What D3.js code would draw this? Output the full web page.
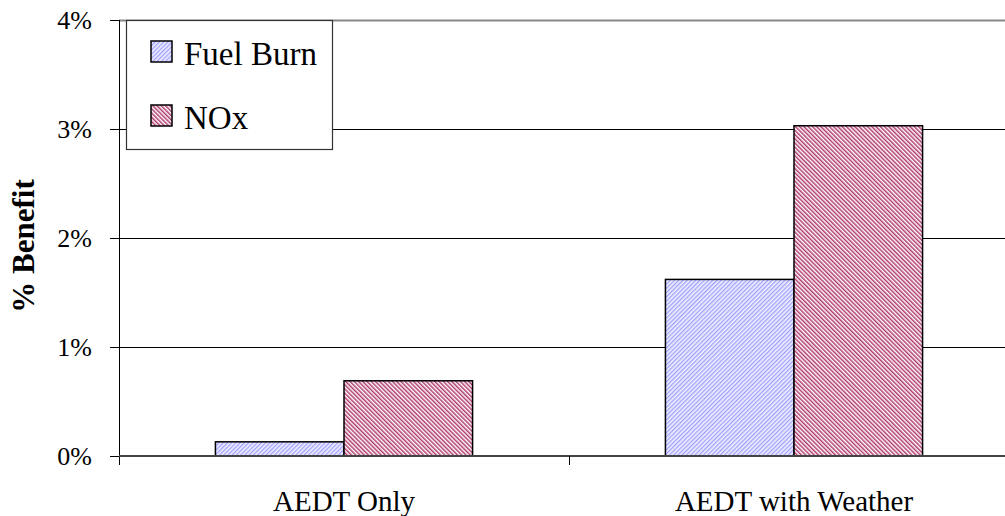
<!DOCTYPE html>
<html>
<head>
<meta charset="utf-8">
<script src="https://cdn.jsdelivr.net/npm/d3@7"></script>
<style>
  body { margin: 0; background: #fff; }
  svg { display: block; font-family: "Liberation Serif", "Times New Roman", serif; }
</style>
</head>
<body>
<svg width="1005" height="516"></svg>
<script>
'use strict';

const categories = ['AEDT Only', 'AEDT with Weather'];
const seriesNames = ['Fuel Burn', 'NOx'];
const fuelBurn = [0.13, 1.62];
const nox = [0.69, 3.03];
const yTicks = [0, 1, 2, 3, 4];

(function (d3) {
  const svg = d3.select('svg');

  const margin = { top: 20, left: 119 };
  const innerHeight = 436;
  const innerWidth = 900;   // plot runs past the right edge, as in the original

  const data = categories.map((c, i) => ({ category: c, values: [fuelBurn[i], nox[i]] }));

  const defs = svg.append('defs');

  const fuelPat = defs.append('pattern')
    .attr('id', 'pat-fuel')
    .attr('width', 3).attr('height', 3)
    .attr('patternUnits', 'userSpaceOnUse')
    .attr('patternTransform', 'rotate(45)');
  fuelPat.append('rect').attr('width', 3).attr('height', 3).attr('fill', '#f0f0ff');
  fuelPat.append('rect').attr('width', 1.3).attr('height', 3).attr('fill', '#a0a0ff');

  const noxPat = defs.append('pattern')
    .attr('id', 'pat-nox')
    .attr('width', 3).attr('height', 3)
    .attr('patternUnits', 'userSpaceOnUse')
    .attr('patternTransform', 'rotate(-45)');
  noxPat.append('rect').attr('width', 3).attr('height', 3).attr('fill', '#ffffff');
  noxPat.append('rect').attr('width', 1.5).attr('height', 3).attr('fill', '#b03a6e');

  const fills = ['url(#pat-fuel)', 'url(#pat-nox)'];

  const xScale = d3.scaleBand()
    .domain(categories)
    .range([0, innerWidth]);

  const xInner = d3.scaleBand()
    .domain(seriesNames)
    .range([0, xScale.bandwidth()])
    .paddingOuter(0.375 * 2)
    .paddingInner(0);

  const yScale = d3.scaleLinear()
    .domain([0, 4])
    .range([innerHeight, 0]);

  const g = svg.append('g')
    .attr('transform', `translate(${margin.left},${margin.top})`);

  // gridlines
  g.append('g')
    .selectAll('line')
    .data(yTicks.filter(t => t > 0 && t < 4))
    .enter().append('line')
      .attr('x1', 0)
      .attr('x2', innerWidth)
      .attr('y1', d => Math.round(yScale(d)) + 0.5)
      .attr('y2', d => Math.round(yScale(d)) + 0.5)
      .attr('stroke', '#000')
      .attr('stroke-width', 1);

  // top border of plot area
  g.append('line')
    .attr('x1', 0).attr('x2', innerWidth)
    .attr('y1', 0.5).attr('y2', 0.5)
    .attr('stroke', '#888').attr('stroke-width', 2);

  // bars
  const groups = g.selectAll('.cat').data(data)
    .enter().append('g')
      .attr('class', 'cat')
      .attr('transform', d => `translate(${xScale(d.category)},0)`);

  groups.selectAll('rect')
    .data(d => d.values.map((v, j) => ({ name: seriesNames[j], value: v, j })))
    .enter().append('rect')
      .attr('x', d => xInner(d.name))
      .attr('y', d => yScale(d.value))
      .attr('width', xInner.bandwidth())
      .attr('height', d => innerHeight - yScale(d.value))
      .attr('fill', d => fills[d.j])
      .attr('stroke', '#000')
      .attr('stroke-width', 1.5);

  // y axis
  const yAxis = d3.axisLeft(yScale)
    .tickValues(yTicks)
    .tickFormat(d => d + '%')
    .tickSize(9)
    .tickPadding(18);

  const yAxisG = g.append('g').call(yAxis);
  yAxisG.select('.domain')
    .attr('d', `M0.5,0V${innerHeight + 9}`)
    .attr('stroke', '#000');
  yAxisG.selectAll('.tick line').attr('stroke', '#000');
  yAxisG.selectAll('text')
    .attr('font-family', '"Liberation Serif", serif')
    .attr('font-size', 26)
    .attr('fill', '#000')
    .attr('dy', '0.33em');

  // x axis
  const xAxisG = g.append('g')
    .attr('transform', `translate(0,${innerHeight})`);
  xAxisG.append('line')
    .attr('x1', 0).attr('x2', innerWidth)
    .attr('y1', 0).attr('y2', 0)
    .attr('stroke', '#444').attr('stroke-width', 2);
  xAxisG.selectAll('.xtick')
    .data(categories.slice(1))
    .enter().append('line')
      .attr('x1', d => xScale(d) + 0.5)
      .attr('x2', d => xScale(d) + 0.5)
      .attr('y1', 0).attr('y2', 9)
      .attr('stroke', '#000');
  xAxisG.selectAll('.xlabel')
    .data(categories)
    .enter().append('text')
      .attr('x', d => xScale(d) + xScale.bandwidth() / 2)
      .attr('y', 55)
      .attr('text-anchor', 'middle')
      .attr('font-size', 29)
      .attr('fill', '#000')
      .text(d => d);

  // y axis label
  svg.append('text')
    .attr('transform', 'translate(34,246) rotate(-90)')
    .attr('text-anchor', 'middle')
    .attr('font-size', 31)
    .attr('font-weight', 'bold')
    .attr('fill', '#000')
    .text('% Benefit');

  // legend
  const legend = svg.append('g').attr('transform', 'translate(126,20)');
  legend.append('rect')
    .attr('x', 0.5).attr('y', 0.5)
    .attr('width', 206).attr('height', 129)
    .attr('fill', '#fff')
    .attr('stroke', '#333')
    .attr('stroke-width', 1.2);

  const items = legend.selectAll('.item').data(seriesNames)
    .enter().append('g')
      .attr('class', 'item')
      .attr('transform', (d, i) => `translate(25,${21 + i * 64})`);
  items.append('rect')
    .attr('width', 21).attr('height', 21)
    .attr('fill', (d, i) => fills[i])
    .attr('stroke', '#000')
    .attr('stroke-width', 1.5);
  items.append('text')
    .attr('x', 33)
    .attr('y', 24)
    .attr('font-size', 33)
    .attr('fill', '#000')
    .text(d => d);

}(d3));
</script>
</body>
</html>
